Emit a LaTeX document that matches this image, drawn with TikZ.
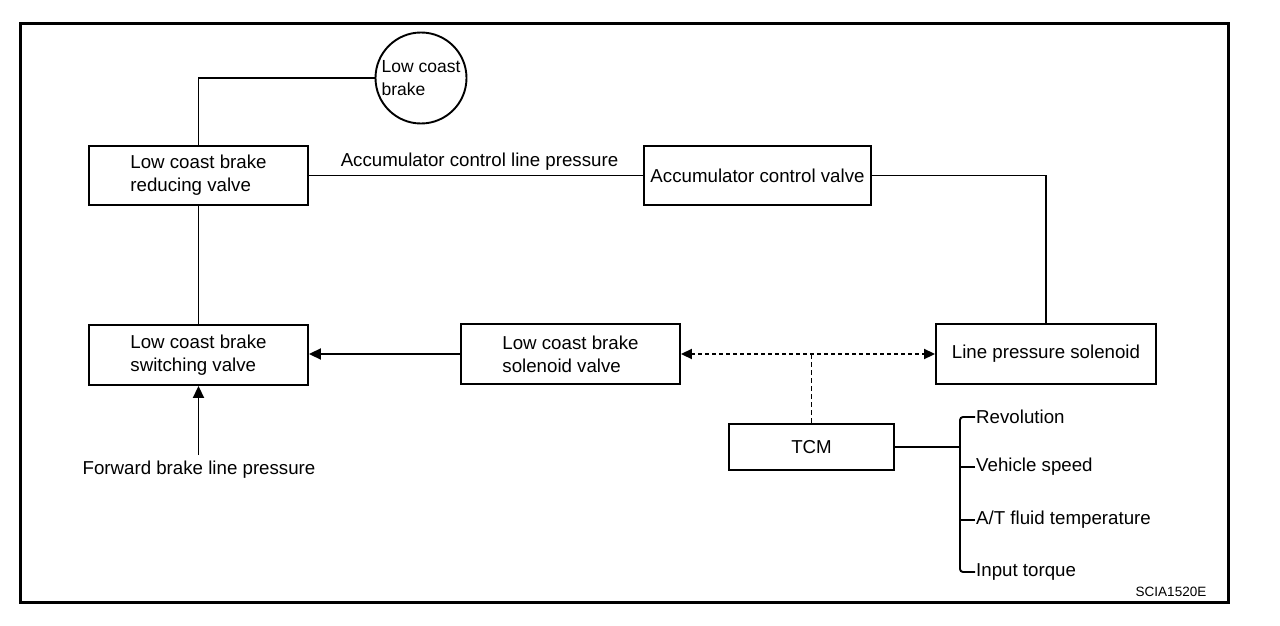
\documentclass[tikz,border=0pt]{standalone}
\usepackage{fontspec}
\setmainfont{Liberation Sans}
\usetikzlibrary{arrows.meta}
\begin{document}
\begin{tikzpicture}[x=1pt,y=-1pt,
  box/.style={draw,line width=1.9pt,inner sep=0pt,align=left,font=\fontsize{18.7pt}{23pt}\selectfont},
  lbl/.style={inner sep=1pt,font=\fontsize{18.7pt}{23pt}\selectfont},
  conn/.style={line width=1.9pt},
  tip/.style={-{Triangle[length=12pt,width=11pt]}},
  dtip/.style={{Triangle[length=11pt,width=10pt]}-{Triangle[length=11pt,width=10pt]}}
]
\useasboundingbox (0,0) rectangle (1280,626);
\fill[white] (0,0) rectangle (1280,626);
\draw[line width=3pt] (20,24) rectangle (1228,602);

\node[box,circle,minimum size=91pt,font=\fontsize{17.5pt}{23pt}\selectfont] (lcb) at (421,78) {Low coast\\brake};
\node[box,minimum width=219pt,minimum height=59pt] (red) at (198.5,175.5) {Low coast brake\\reducing valve};
\node[box,minimum width=227pt,minimum height=59pt] (acv) at (757.5,175.5) {Accumulator control valve};
\node[box,minimum width=219pt,minimum height=60pt] (sw) at (198.5,355) {Low coast brake\\switching valve};
\node[box,minimum width=219pt,minimum height=60pt] (sol) at (570.5,354) {Low coast brake\\solenoid valve};
\node[box,minimum width=220pt,minimum height=60pt] (lps) at (1046,354) {Line pressure solenoid};
\node[box,minimum width=165pt,minimum height=46pt] (tcm) at (811.5,447) {TCM};

\node[lbl] (acl) at (479.5,162) {Accumulator control line pressure};
\node[lbl] (fwdt) at (199,470) {Forward brake line pressure};
\coordinate (fwd) at (198.5,455);

\node[lbl,anchor=west] (rev) at (975,417) {Revolution};
\node[lbl,anchor=west] (veh) at (975,467) {Vehicle speed};
\node[lbl,anchor=west] (atf) at (975,520) {A/T fluid temperature};
\node[lbl,anchor=west] (tq) at (975,572) {Input torque};
\coordinate (busb) at (960,572);

\node[inner sep=0pt,font=\fontsize{13.5pt}{16pt}\selectfont] (code) at (1171,592) {SCIA1520E};

\draw[conn] (red.north) |- (lcb.west);
\draw[conn] (red.east) -- (acv.west);
\draw[conn] (acv.east) -| (lps.north);
\draw[conn] (red.south) -- (sw.north);
\draw[conn,tip] (sol.west) -- (sol.west -| sw.east);
\draw[conn,tip] (fwd) -- (sw.south);
\draw[conn,dtip,dash pattern=on 4pt off 3pt] (sol.east) -- (lps.west);
\draw[line width=1.2pt,dash pattern=on 5pt off 3pt] (tcm.north) -- (tcm.north |- sol.east);
\draw[conn,rounded corners=3pt] (rev.west) -| (busb) -- (tq.west);
\draw[conn] (veh.west) -- (veh.west -| busb);
\draw[conn] (atf.west) -- (atf.west -| busb);
\draw[conn] (tcm.east) -- (tcm.east -| busb);
\end{tikzpicture}
\end{document}
